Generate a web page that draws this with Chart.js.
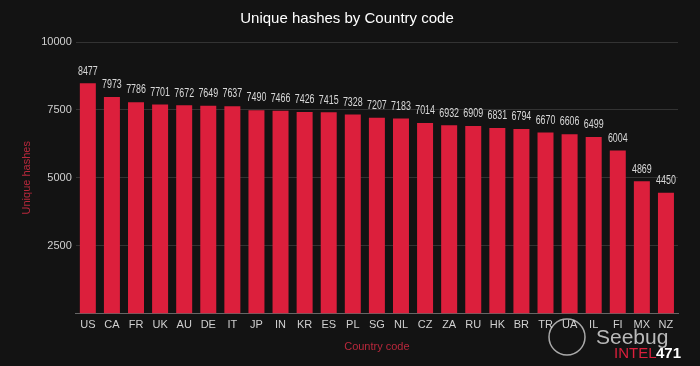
<!DOCTYPE html>
<html>
<head>
<meta charset="utf-8">
<script src="https://cdn.jsdelivr.net/npm/chart.js@4.4.0/dist/chart.umd.min.js"></script>
<style>
  html, body { margin: 0; padding: 0; background: #131313; }
  #wrap { width: 700px; height: 366px; }
</style>
</head>
<body>
<div id="wrap"><canvas id="chart" width="700" height="366"></canvas></div>
<script>
// categories and values
const countries = ['US', 'CA', 'FR', 'UK', 'AU', 'DE', 'IT', 'JP', 'IN', 'KR', 'ES', 'PL', 'SG', 'NL', 'CZ', 'ZA', 'RU', 'HK', 'BR', 'TR', 'UA', 'IL', 'FI', 'MX', 'NZ'];
const hashes = [8477, 7973, 7786, 7701, 7672, 7649, 7637, 7490, 7466, 7426, 7415, 7328, 7207, 7183, 7014, 6932, 6909, 6831, 6794, 6670, 6606, 6499, 6004, 4869, 4450];
const yTicks = [2500, 5000, 7500, 10000];

const baseFont = '"Liberation Sans", Arial, sans-serif';

// value labels above the bars (narrow look like in the original, so the text is squeezed a bit)
const valueLabels = {
  id: 'valueLabels',
  afterDatasetsDraw(chart) {
    const c = chart.ctx;
    const meta = chart.getDatasetMeta(0);
    const squeeze = 0.74;
    c.save();
    c.fillStyle = '#d8d8d8';
    c.font = '12px ' + baseFont;
    c.textAlign = 'center';
    c.textBaseline = 'bottom';
    meta.data.forEach((bar, i) => {
      c.save();
      c.translate(bar.x, bar.y - 6);
      c.scale(squeeze, 1);
      c.fillText(hashes[i], 0, 0);
      c.restore();
    });
    c.restore();
  }
};

// watermark bottom right
const watermark = {
  id: 'watermark',
  afterDraw(chart) {
    const c = chart.ctx;
    c.save();
    c.strokeStyle = 'rgba(220,220,220,0.75)';
    c.lineWidth = 1.5;
    c.beginPath();
    c.arc(567, 337, 18, 0, Math.PI * 2);
    c.stroke();
    c.fillStyle = 'rgba(215,215,215,0.85)';
    c.font = '21px ' + baseFont;
    c.textAlign = 'left';
    c.textBaseline = 'alphabetic';
    c.fillText('Seebug', 596, 344);
    c.font = '15px ' + baseFont;
    c.fillStyle = '#dc1f3c';
    c.fillText('INTEL', 614, 358);
    c.fillStyle = '#ffffff';
    c.font = 'bold 15px ' + baseFont;
    c.fillText('471', 656, 358);
    c.restore();
  }
};

new Chart(document.getElementById('chart'), {
  type: 'bar',
  data: {
    labels: countries,
    datasets: [{
      data: hashes,
      backgroundColor: '#dc1f3c',
      borderWidth: 0,
      barPercentage: 0.83,
      categoryPercentage: 0.8
    }]
  },
  options: {
    responsive: false,
    animation: false,
    devicePixelRatio: 1,
    layout: { padding: { left: 16, right: 22, top: 6, bottom: 8 } },
    plugins: {
      legend: { display: false },
      tooltip: { enabled: false },
      title: {
        display: true,
        text: 'Unique hashes by Country code',
        color: '#ffffff',
        font: { size: 15, family: baseFont, weight: 'normal' },
        padding: { top: 4, bottom: 14 }
      }
    },
    scales: {
      x: {
        grid: { display: false, drawTicks: false },
        border: { color: '#666666' },
        ticks: { color: '#d0d0d0', font: { size: 11, family: baseFont }, padding: 5, maxRotation: 0, autoSkip: false },
        title: { display: true, text: 'Country code', color: '#b8283c', font: { size: 11, family: baseFont }, padding: { top: 4 } }
      },
      y: {
        min: 0,
        max: 10000,
        afterBuildTicks(axis) { axis.ticks = yTicks.map(v => ({ value: v })); },
        grid: { color: '#333333', drawTicks: false },
        border: { display: false },
        ticks: { color: '#d0d0d0', font: { size: 11, family: baseFont }, padding: 4, callback: v => String(v) },
        title: { display: true, text: 'Unique hashes', color: '#b8283c', font: { size: 11, family: baseFont }, padding: { top: 4, bottom: 4 } }
      }
    }
  },
  plugins: [valueLabels, watermark]
});
</script>
</body>
</html>
